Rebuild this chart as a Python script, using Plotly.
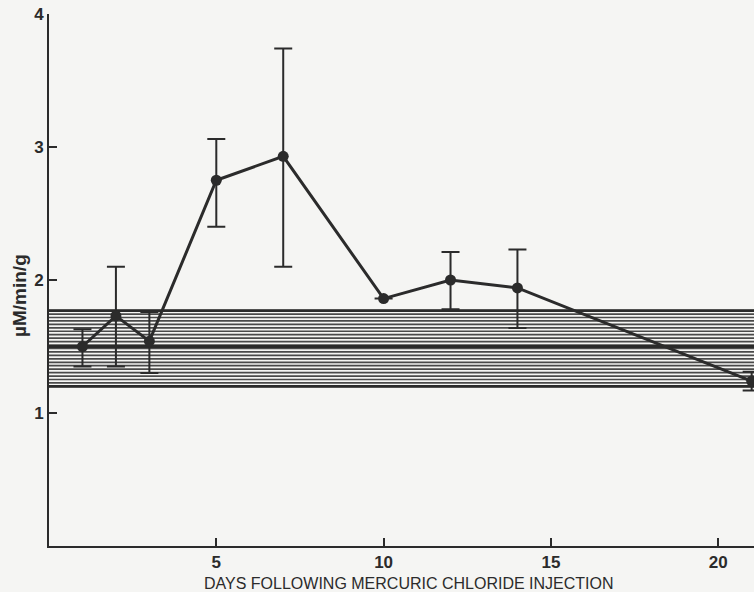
import numpy as np
import plotly.graph_objects as go

# Renal measurement after mercuric chloride injection (mean with range bars)
days = [1, 2, 3, 5, 7, 10, 12, 14, 21]
mean_val = [1.50, 1.73, 1.54, 2.75, 2.93, 1.86, 2.00, 1.94, 1.24]
upper_val = [1.63, 2.10, 1.76, 3.06, 3.74, 1.86, 2.21, 2.23, 1.31]
lower_val = [1.35, 1.35, 1.30, 2.40, 2.10, 1.86, 1.78, 1.64, 1.17]

# Normal range band for controls
normal_low = 1.20
normal_high = 1.77
normal_mean = 1.50

x_ticks = [5, 10, 15, 20]
y_ticks = [1, 2, 3, 4]

INK = "#2b2b2b"
BG = "#f5f5f3"
FONT = "Liberation Sans"

err_plus = [u - m for u, m in zip(upper_val, mean_val)]
err_minus = [m - l for m, l in zip(mean_val, lower_val)]

fig = go.Figure()

fig.add_trace(go.Scatter(
    x=days, y=mean_val,
    mode="lines+markers",
    line=dict(color=INK, width=3),
    marker=dict(color=INK, size=11),
    error_y=dict(type="data", symmetric=False, array=err_plus,
                 arrayminus=err_minus, color=INK, thickness=2, width=9),
    showlegend=False,
))

# Horizontal hatching of the normal range
shapes = []
hatch = np.linspace(normal_low, normal_high, 23)
for yv in hatch:
    shapes.append(dict(type="line", xref="paper", yref="y", x0=0, x1=1,
                       y0=yv, y1=yv, layer="below",
                       line=dict(color="#4a4a4a", width=1.7)))
for yv in (normal_low, normal_high, normal_mean):
    shapes.append(dict(type="line", xref="paper", yref="y", x0=0, x1=1,
                       y0=yv, y1=yv, layer="below",
                       line=dict(color="#2a2a2a", width=2.8)))

annotations = [
    dict(text="µM/min/g", xref="paper", yref="y", x=0, y=1.88,
         xshift=-29, xanchor="center", yanchor="middle", textangle=-90,
         showarrow=False,
         font=dict(family=FONT, size=19, color=INK, weight=600)),
    dict(text="DAYS FOLLOWING MERCURIC CHLORIDE INJECTION", xref="paper",
         yref="paper", x=0.51, y=0, yshift=-37, xanchor="center",
         yanchor="middle", showarrow=False,
         font=dict(family=FONT, size=16, color=INK)),
]

tick_font = dict(family=FONT, size=17, color=INK, weight=600)

fig.update_layout(
    width=754, height=592,
    margin=dict(l=49, r=0, t=14, b=46),
    paper_bgcolor=BG, plot_bgcolor=BG,
    shapes=shapes, annotations=annotations,
    font=dict(family=FONT, color=INK),
    xaxis=dict(range=[0, 21.07], tickvals=x_ticks, ticks="inside",
               ticklen=8, tickwidth=1.5, tickcolor=INK,
               showline=True, linecolor=INK, linewidth=2,
               showgrid=False, zeroline=False, tickfont=tick_font),
    yaxis=dict(range=[0, 4], tickvals=y_ticks, ticks="inside",
               ticklen=8, tickwidth=1.5, tickcolor=INK,
               showline=True, linecolor=INK, linewidth=2,
               showgrid=False, zeroline=False, tickfont=tick_font),
)

fig.write_html("out.html")
